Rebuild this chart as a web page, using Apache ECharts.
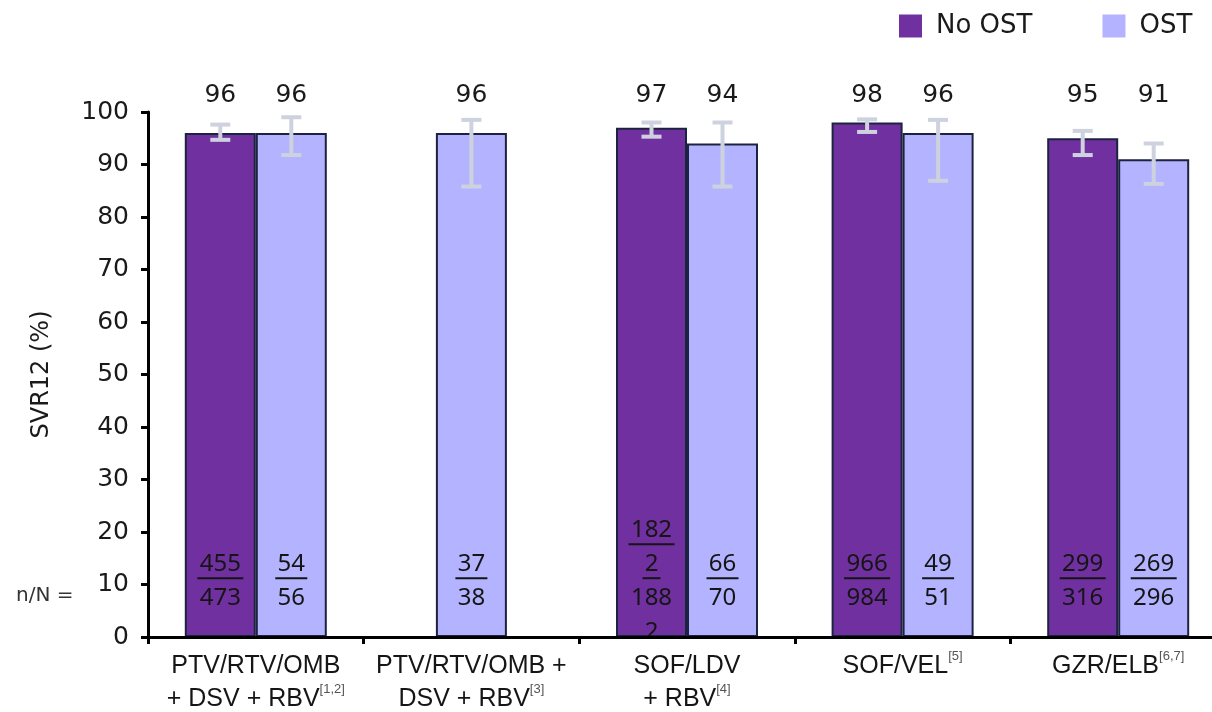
<!DOCTYPE html>
<html>
<head>
<meta charset="utf-8">
<script src="https://cdn.jsdelivr.net/npm/echarts@6/dist/echarts.min.js"></script>
<style>
  html, body { margin: 0; padding: 0; background: #ffffff; overflow: hidden; }
  /* the plot runs slightly past the right edge of the page, so the canvas is a bit wider */
  #chart { width: 1226px; height: 712px; }
</style>
</head>
<body>
<div id="chart"></div>
<script>
// Regimen groups (x axis) and their reference marks
const categories = ['PTV/RTV/OMB\n+ DSV + RBV', 'PTV/RTV/OMB +\nDSV + RBV', 'SOF/LDV\n+ RBV', 'SOF/VEL', 'GZR/ELB'];
const references = ['[1,2]', '[3]', '[4]', '[5]', '[6,7]'];

// SVR12 (%) per group
const noOst = [96, null, 97, 98, 95];
const ost = [96, 96, 94, 96, 91];

// 95% confidence limits
const noOstLow = [94.7, null, 95.3, 96.2, 91.8];
const noOstHigh = [97.6, null, 98.0, 98.6, 96.4];
const ostLow = [91.8, 85.8, 85.8, 86.9, 86.3];
const ostHigh = [99.0, 98.5, 98.0, 98.5, 94.0];

// Responders / total patients
const noOstResponders = [455, null, 1822, 966, 299];
const noOstTotal = [473, null, 1882, 984, 316];
const ostResponders = [54, 37, 66, 49, 269];
const ostTotal = [56, 38, 70, 51, 296];

const PURPLE = '#7030A0';
const LAVENDER = '#B3B3FF';
const BAR_BORDER = '#1C2340';
const WHISKER = '#CDD2DE';
const BAR_W = 71;
const LABEL_AT = 103.2;     // height (in axis units) of the percentage labels
const FRACTION_AT = 11.2;   // height of the n/N fraction bar
const FRACTION_LINE_H = 34;

function barOffset(kind, i) {
  if (kind === 'noOst') return -BAR_W / 2;
  return noOst[i] == null ? 0 : BAR_W / 2;
}

function chunks(num) {
  return String(num).match(/.{1,3}/g);
}

function errorBarSeries(kind, low, high) {
  return {
    type: 'custom',
    name: kind + '-ci',
    z: 5,
    data: low.map((l, i) => [i, l, high[i]]).filter(d => d[1] != null),
    encode: { x: 0, y: [1, 2] },
    renderItem(params, api) {
      const i = api.value(0);
      const x = api.coord([i, 0])[0] + barOffset(kind, i);
      const yLow = api.coord([i, api.value(1)])[1];
      const yHigh = api.coord([i, api.value(2)])[1];
      const cap = 10;
      const st = { stroke: WHISKER, lineWidth: 4 };
      return {
        type: 'group',
        children: [
          { type: 'line', shape: { x1: x, y1: yLow, x2: x, y2: yHigh }, style: st },
          { type: 'line', shape: { x1: x - cap, y1: yHigh, x2: x + cap, y2: yHigh }, style: st },
          { type: 'line', shape: { x1: x - cap, y1: yLow, x2: x + cap, y2: yLow }, style: st }
        ]
      };
    }
  };
}

function valueLabelSeries(kind, values) {
  return {
    type: 'custom',
    name: kind + '-value',
    z: 6,
    data: values.map((v, i) => [i, v]).filter(d => d[1] != null),
    encode: { x: 0, y: 1 },
    renderItem(params, api) {
      const i = api.value(0);
      const x = api.coord([i, 0])[0] + barOffset(kind, i);
      const y = api.coord([i, LABEL_AT])[1];
      return {
        type: 'text',
        style: {
          text: String(api.value(1)),
          x: x, y: y,
          align: 'center', verticalAlign: 'middle',
          font: '25px "DejaVu Sans"', fill: '#1a1a1a'
        }
      };
    }
  };
}

function fractionSeries(kind, responders, totals) {
  return {
    type: 'custom',
    name: kind + '-n',
    z: 4,
    clip: true,
    data: responders.map((n, i) => [i, n, totals[i]]).filter(d => d[1] != null),
    encode: { x: 0, y: 1 },
    renderItem(params, api) {
      const i = api.value(0);
      const x = api.coord([i, 0])[0] + barOffset(kind, i);
      const lineY = api.coord([i, FRACTION_AT])[1];
      const num = chunks(api.value(1));
      const den = chunks(api.value(2));
      const font = '24px "Noto Sans"';
      const children = [];
      num.forEach((s, k) => {
        const under = lineY - (num.length - 1 - k) * FRACTION_LINE_H;
        const w = s.length * 14 + 4;
        children.push({
          type: 'text',
          style: { text: s, x: x, y: under - 14, align: 'center', verticalAlign: 'middle', font: font, fill: '#151515' }
        });
        children.push({
          type: 'line',
          shape: { x1: x - w / 2, y1: under, x2: x + w / 2, y2: under },
          style: { stroke: '#151515', lineWidth: 2 }
        });
      });
      den.forEach((s, k) => {
        children.push({
          type: 'text',
          style: { text: s, x: x, y: lineY + 20 + k * FRACTION_LINE_H, align: 'center', verticalAlign: 'middle', font: font, fill: '#151515' }
        });
      });
      return { type: 'group', children: children };
    }
  };
}

const barBase = {
  type: 'bar',
  barWidth: BAR_W,
  barGap: '0%',
  z: 2
};

const chart = echarts.init(document.getElementById('chart'), null, { renderer: 'canvas' });

chart.setOption({
  animation: false,
  backgroundColor: '#ffffff',
  grid: { left: 148, top: 112, bottom: 75, right: 0, containLabel: false },
  legend: {
    left: 894,
    top: 8,
    itemWidth: 23,
    itemHeight: 23,
    itemGap: 70,
    icon: 'rect',
    itemStyle: { borderWidth: 0 },
    textStyle: { fontFamily: 'DejaVu Sans', fontSize: 26, color: '#1a1a1a', padding: [0, 0, 0, 9] },
    data: ['No OST', 'OST']
  },
  graphic: [
    {
      type: 'text',
      left: 16,
      top: 586,
      style: { text: 'n/N =', font: '20px "DejaVu Sans"', fill: '#333333' }
    }
  ],
  xAxis: [
    {
      type: 'category',
      data: categories,
      z: 10,
      axisLine: { lineStyle: { color: '#000000', width: 3 } },
      axisTick: { show: true, length: 7, lineStyle: { color: '#000000', width: 3 } },
      axisLabel: {
        margin: 13,
        interval: 0,
        formatter(value, idx) {
          const lines = value.split('\n');
          return lines.map((l, k) => '{m|' + l + '}' + (k === lines.length - 1 ? '{s|' + references[idx] + '}' : '')).join('\n');
        },
        rich: {
          m: { fontFamily: 'Liberation Sans', fontSize: 25, color: '#151515', lineHeight: 33 },
          s: { fontFamily: 'Liberation Sans', fontSize: 13, color: '#555555', lineHeight: 18, verticalAlign: 'top' }
        }
      }
    },
    {
      type: 'category',
      data: categories,
      show: false
    }
  ],
  yAxis: {
    type: 'value',
    min: 0,
    max: 100,
    interval: 10,
    name: 'SVR12 (%)',
    nameLocation: 'middle',
    nameGap: 94,
    nameTextStyle: { fontFamily: 'DejaVu Sans', fontSize: 24, color: '#1a1a1a' },
    z: 10,
    axisLine: { show: true, lineStyle: { color: '#000000', width: 3 } },
    axisTick: { show: true, length: 7, lineStyle: { color: '#000000', width: 3 } },
    axisLabel: { margin: 19, fontFamily: 'DejaVu Sans', fontSize: 25, color: '#1a1a1a' },
    splitLine: { show: false }
  },
  series: [
    Object.assign({}, barBase, {
      name: 'No OST',
      xAxisIndex: 0,
      data: noOst,
      itemStyle: { color: PURPLE, borderColor: BAR_BORDER, borderWidth: 2 }
    }),
    Object.assign({}, barBase, {
      name: 'OST',
      xAxisIndex: 0,
      data: ost.map((v, i) => (noOst[i] == null ? null : v)),
      itemStyle: { color: LAVENDER, borderColor: BAR_BORDER, borderWidth: 2 }
    }),
    // groups reported for OST patients only: one centred bar
    Object.assign({}, barBase, {
      name: 'OST',
      xAxisIndex: 1,
      data: ost.map((v, i) => (noOst[i] == null ? v : null)),
      itemStyle: { color: LAVENDER, borderColor: BAR_BORDER, borderWidth: 2 }
    }),
    errorBarSeries('noOst', noOstLow, noOstHigh),
    errorBarSeries('ost', ostLow, ostHigh),
    valueLabelSeries('noOst', noOst),
    valueLabelSeries('ost', ost),
    fractionSeries('noOst', noOstResponders, noOstTotal),
    fractionSeries('ost', ostResponders, ostTotal)
  ]
});
</script>
</body>
</html>
